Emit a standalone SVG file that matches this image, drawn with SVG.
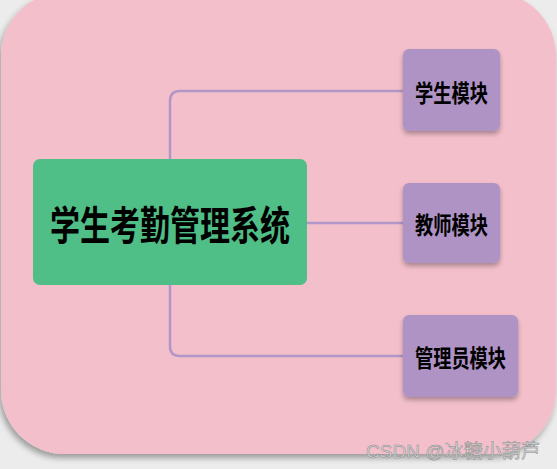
<svg xmlns="http://www.w3.org/2000/svg" width="557" height="469" viewBox="0 0 557 469">
  <defs>
    <filter id="sh" x="-20%" y="-20%" width="140%" height="150%">
      <feDropShadow dx="0" dy="3" stdDeviation="2.5" flood-color="#000" flood-opacity="0.3"/>
    </filter>
    <filter id="bgsh" x="-5%" y="-5%" width="110%" height="110%">
      <feDropShadow dx="-2" dy="4" stdDeviation="3" flood-color="#000" flood-opacity="0.35"/>
    </filter>
  </defs>
  <style>
    .sub { fill: #ae93c4; }
    .lbl { font-family: "Noto Sans CJK SC", "Noto Sans", sans-serif; font-weight: 700; fill: #000; text-anchor: middle; }
    .conn { fill: none; stroke: #b196c7; stroke-width: 2.5; }
  </style>
  <rect x="0" y="0" width="557" height="469" fill="#ececec"/>
  <rect x="1" y="-8" width="555" height="462" rx="64" fill="#f3bfcb" filter="url(#bgsh)"/>

  <g id="connectors">
    <path class="conn" d="M170,159 V101 Q170,91 180,91 H403"/>
    <path class="conn" d="M307,223 H403"/>
    <path class="conn" d="M170,285 V346 Q170,356 180,356 H403"/>
  </g>

  <g id="root">
    <rect x="33" y="159" width="274" height="126" rx="7" fill="#50be87"/>
    <text class="lbl" x="170" y="240" font-size="40" textLength="240" lengthAdjust="spacingAndGlyphs">学生考勤管理系统</text>
  </g>

  <g id="student">
    <rect class="sub" x="403" y="49" width="97" height="82" rx="6" filter="url(#sh)"/>
    <text class="lbl" x="451.5" y="102" font-size="24" textLength="73" lengthAdjust="spacingAndGlyphs">学生模块</text>
  </g>

  <g id="teacher">
    <rect class="sub" x="403" y="183" width="97" height="80" rx="6" filter="url(#sh)"/>
    <text class="lbl" x="451.5" y="234" font-size="24" textLength="73" lengthAdjust="spacingAndGlyphs">教师模块</text>
  </g>

  <g id="admin">
    <rect class="sub" x="403" y="315" width="115" height="82" rx="6" filter="url(#sh)"/>
    <text class="lbl" x="460.5" y="367" font-size="24" textLength="91" lengthAdjust="spacingAndGlyphs">管理员模块</text>
  </g>

  <text x="366" y="458" font-family="'Liberation Sans', 'Noto Sans CJK SC', sans-serif" font-size="19" textLength="174" lengthAdjust="spacingAndGlyphs" fill="#d6d6d6" stroke="#8a8a8a" stroke-width="0.5">CSDN @冰糖小葫芦</text>
</svg>
